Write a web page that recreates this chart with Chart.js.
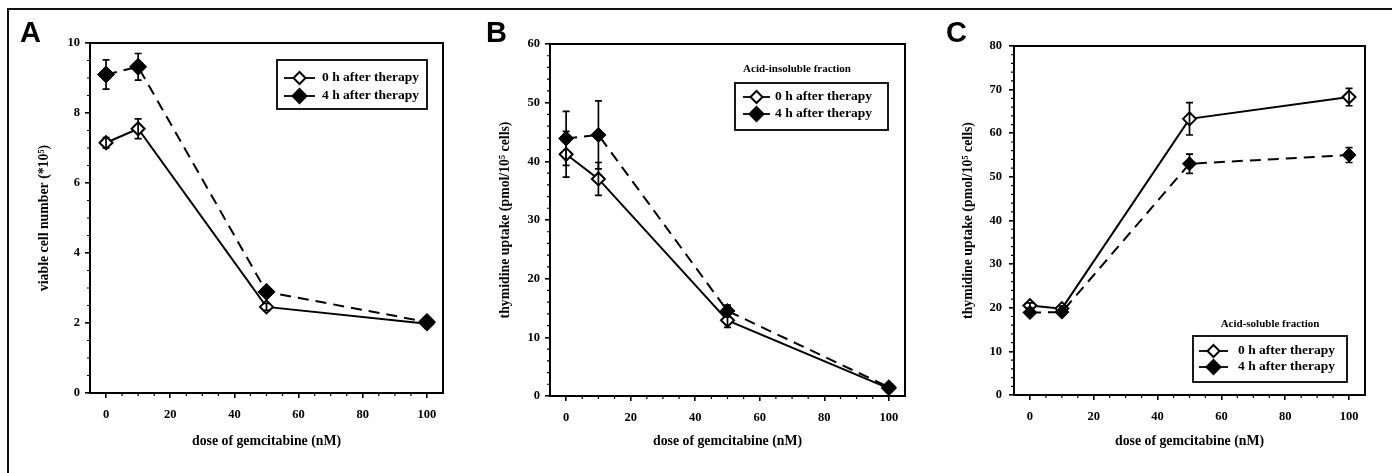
<!DOCTYPE html>
<html><head><meta charset="utf-8">
<script src="https://cdn.jsdelivr.net/npm/chart.js@4"></script>
<style>
html,body{margin:0;padding:0;background:#fff;}
body{width:1392px;height:473px;position:relative;overflow:hidden;}
canvas{position:absolute;top:0;}
.frame{position:absolute;left:7px;top:8px;width:1385px;height:465px;border-top:2px solid #111;border-left:2px solid #111;}
.lbl{position:absolute;font-family:'Liberation Sans',Arial,sans-serif;font-weight:bold;font-size:29px;line-height:1;color:#000;}
</style></head><body>
<div class="frame"></div>
<canvas id="cA" width="460" height="473" style="left:0px"></canvas>
<canvas id="cB" width="460" height="473" style="left:460px"></canvas>
<canvas id="cC" width="472" height="473" style="left:920px"></canvas>
<div class="lbl" style="left:20px;top:18px">A</div>
<div class="lbl" style="left:486px;top:18px">B</div>
<div class="lbl" style="left:946px;top:18px">C</div>
<script>
// ---- data ----
const dose = [0, 10, 50, 100];
const xTicks = [0, 20, 40, 60, 80, 100];
const seriesLabels = ['0 h after therapy', '4 h after therapy'];
const xTitle = 'dose of gemcitabine (nM)';

const A_0h = [7.15, 7.55, 2.46, 1.98];
const A_0h_err = [0.15, 0.28, 0.1, 0.08];
const A_4h = [9.1, 9.32, 2.89, 2.03];
const A_4h_err = [0.42, 0.38, 0.1, 0.08];

const B_0h = [41.2, 37.0, 12.9, 1.3];
const B_0h_err = [3.9, 2.8, 1.2, 0.3];
const B_4h = [43.9, 44.5, 14.5, 1.5];
const B_4h_err = [4.6, 5.8, 1.0, 0.3];

const C_0h = [20.5, 19.8, 63.3, 68.3];
const C_0h_err = [0.6, 0.6, 3.7, 2.0];
const C_4h = [18.9, 19.0, 53.0, 55.0];
const C_4h_err = [0.6, 0.6, 2.2, 1.7];

const FAM = "'Liberation Serif','Times New Roman',serif";
const TICKFONT = {family: FAM, weight: 'bold', size: 12.5};
const TITLEFONT = {family: FAM, weight: 'bold', size: 13.8};
const LEGSTR = "bold 13.5px " + FAM;
const LEGTITLESTR = "bold 11px " + FAM;

function diamond(ctx, x, y, r, filled) {
  ctx.beginPath();
  ctx.moveTo(x, y - r); ctx.lineTo(x + r, y); ctx.lineTo(x, y + r); ctx.lineTo(x - r, y); ctx.closePath();
  ctx.fillStyle = filled ? '#000' : '#fff';
  ctx.fill();
  ctx.lineWidth = 2; ctx.strokeStyle = '#000'; ctx.stroke();
}

const boxPlugin = {
  id: 'box',
  afterDatasetsDraw(chart, args, o) {
    const ctx = chart.ctx, a = chart.chartArea;
    const xs = chart.scales.x, ys = chart.scales.y;
    ctx.save();
    ctx.strokeStyle = '#000';
    // error bars
    chart.data.datasets.forEach((ds) => {
      ds.errors.forEach((e, j) => {
        const px = xs.getPixelForValue(ds.data[j].x);
        const top = ys.getPixelForValue(ds.data[j].y + e);
        const bot = ys.getPixelForValue(ds.data[j].y - e);
        ctx.lineWidth = 1.7;
        ctx.beginPath();
        ctx.moveTo(px, top); ctx.lineTo(px, bot);
        ctx.moveTo(px - 3.5, top); ctx.lineTo(px + 3.5, top);
        ctx.moveTo(px - 3.5, bot); ctx.lineTo(px + 3.5, bot);
        ctx.stroke();
      });
    });
    // frame
    ctx.lineWidth = 2;
    ctx.strokeRect(a.left, a.top, a.right - a.left, a.bottom - a.top);
    // minor ticks
    ctx.lineWidth = 1.2;
    ctx.beginPath();
    for (let v = ys.min; v <= ys.max + 1e-9; v += o.yMinor) {
      const r = v / o.yMajor;
      if (Math.abs(r - Math.round(r)) < 1e-6) continue;
      const py = ys.getPixelForValue(v);
      ctx.moveTo(a.left - 3, py); ctx.lineTo(a.left, py);
    }
    for (let v = 0; v <= 100; v += 5) {
      if (v % 20 === 0) continue;
      const px = xs.getPixelForValue(v);
      ctx.moveTo(px, a.bottom); ctx.lineTo(px, a.bottom + 3);
    }
    ctx.stroke();
    // legend
    const L = o.legend;
    ctx.fillStyle = '#000';
    ctx.textBaseline = 'middle';
    if (L.title) {
      ctx.font = LEGTITLESTR;
      ctx.textAlign = 'center';
      ctx.fillText(L.title, L.titleX, L.titleY);
    }
    ctx.font = LEGSTR;
    ctx.fillStyle = '#fff';
    ctx.fillRect(L.box[0], L.box[1], L.box[2] - L.box[0], L.box[3] - L.box[1]);
    ctx.lineWidth = 1.8;
    ctx.strokeStyle = '#000';
    ctx.strokeRect(L.box[0], L.box[1], L.box[2] - L.box[0], L.box[3] - L.box[1]);
    seriesLabels.forEach((lab, i) => {
      const y = L.rows[i];
      ctx.lineWidth = 1.8; ctx.setLineDash([]);
      ctx.beginPath(); ctx.moveTo(L.sym[0], y); ctx.lineTo(L.sym[1], y); ctx.stroke();
      diamond(ctx, (L.sym[0] + L.sym[1]) / 2, y, i === 0 ? 6 : 7, i === 1);
      ctx.fillStyle = '#000';
      ctx.textAlign = 'left';
      ctx.fillText(lab, L.textX, y);
    });
    ctx.restore();
  }
};

function build(id, c) {
  const mk = (vals) => dose.map((d, i) => ({x: d, y: vals[i]}));
  return new Chart(document.getElementById(id), {
    type: 'line',
    data: {datasets: [
      {label: seriesLabels[0], data: mk(c.y0), errors: c.e0, borderColor: '#000', borderWidth: 2,
       pointStyle: 'rectRot', pointRadius: c.r0, pointBackgroundColor: '#fff', pointBorderColor: '#000',
       pointBorderWidth: 2, order: 1, tension: 0},
      {label: seriesLabels[1], data: mk(c.y4), errors: c.e4, borderColor: '#000', borderWidth: 2,
       borderDash: [11, 7], pointStyle: 'rectRot', pointRadius: c.r4, pointBackgroundColor: '#000',
       pointBorderColor: '#000', pointBorderWidth: 1, order: 0, tension: 0}
    ]},
    options: {
      responsive: false, animation: false, devicePixelRatio: 1,
      layout: {padding: {left: 0, top: c.top, right: c.W - c.right, bottom: 0}},
      plugins: {legend: {display: false}, tooltip: {enabled: false},
        box: {yMajor: c.yStep, yMinor: c.yMinor, legend: c.legend}},
      scales: {
        x: {type: 'linear', min: -5, max: 105,
          afterBuildTicks: s => { s.ticks = xTicks.map(v => ({value: v})); },
          afterFit: s => { s.height = 473 - c.bottom; },
          ticks: {font: TICKFONT, color: '#000', padding: 9, maxRotation: 0, autoSkip: false},
          grid: {drawOnChartArea: false, tickLength: 5, color: '#000', lineWidth: 1.6},
          border: {display: false},
          title: {display: true, text: xTitle, font: TITLEFONT, color: '#000', padding: {top: 0, bottom: 23}}},
        y: {type: 'linear', min: 0, max: c.yMax,
          afterFit: s => { s.width = c.left; },
          ticks: {stepSize: c.yStep, font: TICKFONT, color: '#000', padding: c.yPad},
          grid: {drawOnChartArea: false, tickLength: 5, color: '#000', lineWidth: 1.6},
          border: {display: false},
          title: {display: true, text: c.yTitle, font: TITLEFONT, color: '#000', padding: {top: c.yTitlePad, bottom: 0}}}
      }
    },
    plugins: [boxPlugin]
  });
}

build('cA', {W: 460, left: 90, top: 43, right: 443, bottom: 393, yMax: 10, yStep: 2, yMinor: 0.5, yPad: 5,
  yTitle: 'viable cell number (*10\u2075)', yTitlePad: 36,
  y0: A_0h, e0: A_0h_err, y4: A_4h, e4: A_4h_err, r0: 6.5, r4: 8.5,
  legend: {box: [277, 60, 427, 109], rows: [78, 96], sym: [284, 315], textX: 322}});

build('cB', {W: 460, left: 90, top: 44, right: 445, bottom: 396, yMax: 60, yStep: 10, yMinor: 2, yPad: 5,
  yTitle: 'thymidine uptake (pmol/10\u2075 cells)', yTitlePad: 37,
  y0: B_0h, e0: B_0h_err, y4: B_4h, e4: B_4h_err, r0: 6.5, r4: 7.5,
  legend: {title: 'Acid-insoluble fraction', titleX: 337, titleY: 69, box: [275, 83, 428, 130], rows: [97, 114], sym: [283, 310], textX: 315}});

build('cC', {W: 472, left: 94, top: 46, right: 445, bottom: 395, yMax: 80, yStep: 10, yMinor: 2, yPad: 7,
  yTitle: 'thymidine uptake (pmol/10\u2075 cells)', yTitlePad: 40,
  y0: C_0h, e0: C_0h_err, y4: C_4h, e4: C_4h_err, r0: 6.5, r4: 7,
  legend: {title: 'Acid-soluble fraction', titleX: 350, titleY: 324, box: [273, 336, 427, 382], rows: [351, 367], sym: [279, 308], textX: 318}});
</script>
</body></html>
